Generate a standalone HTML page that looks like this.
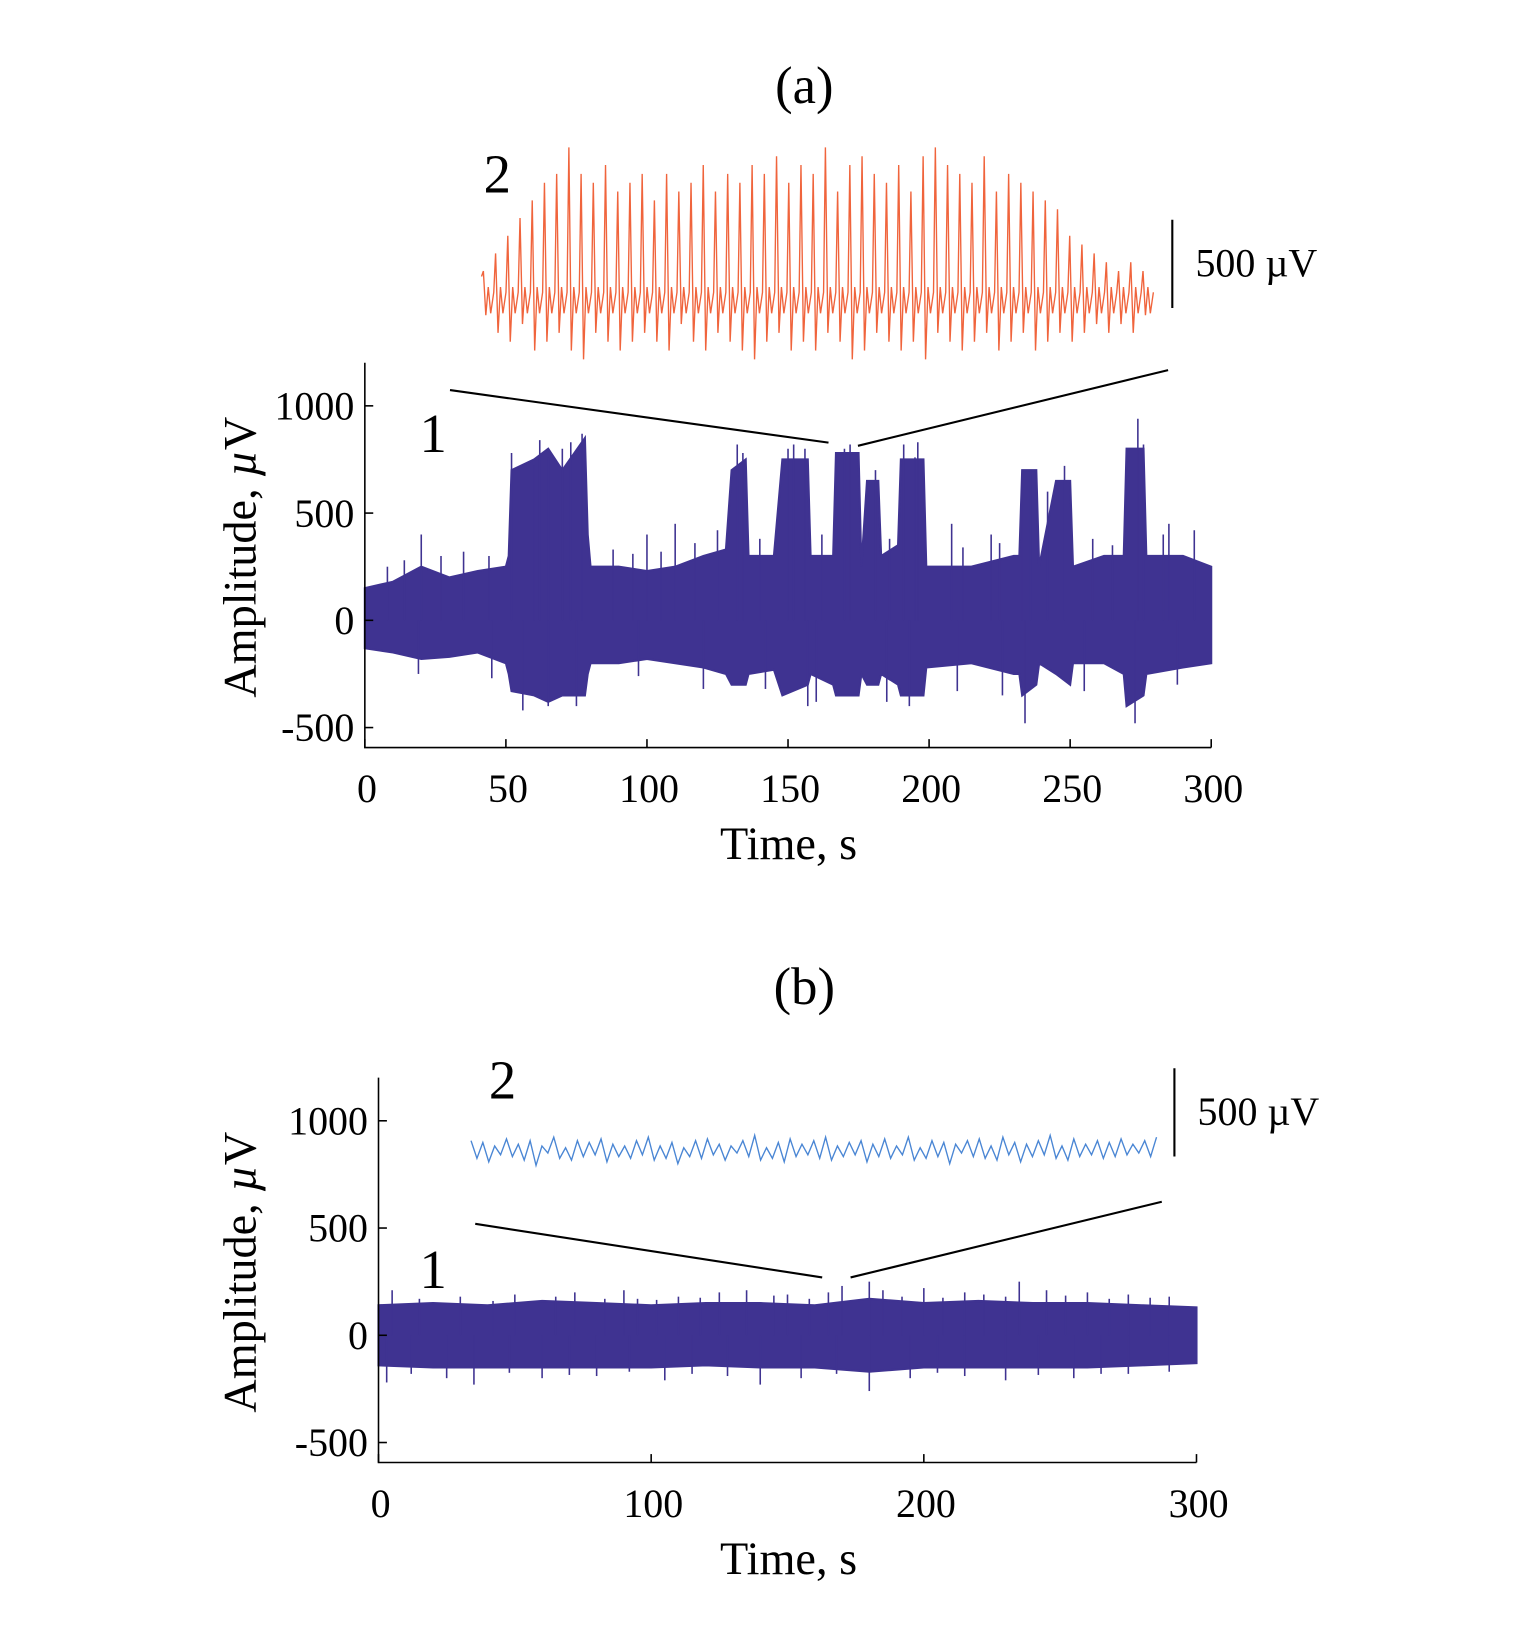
<!DOCTYPE html>
<html><head><meta charset="utf-8">
<style>
body{margin:0;background:#fff;}
svg text{font-family:"Liberation Serif",serif;fill:#000;}
</style></head>
<body>
<svg id="fig" width="1535" height="1646" viewBox="0 0 1535 1646" xmlns="http://www.w3.org/2000/svg">
<g transform="scale(1.0514)">
<g id="pa"></g>
<g id="pb"></g>
</g>
</svg>
<script>
// ---- Panel (a) data ----
const aTimes=[0,10,20,30,40,50,51,52,60,65,70,78,79,80,90,100,110,120,128,130,135,136,145,148,157,158,166,167,175,176,178,182,183,189,190,198,199,215,230,232,233,238,239,245,250,251,262,269,270,276,277,290,300];
const aHigh=[150,180,250,200,230,250,300,700,750,800,700,850,400,250,250,230,250,300,330,700,750,300,300,750,750,300,300,780,780,250,650,650,300,350,750,750,250,250,300,300,700,700,250,650,650,250,300,300,800,800,300,300,250];
const aLow=[-130,-150,-180,-170,-150,-200,-250,-330,-350,-380,-350,-350,-250,-200,-200,-180,-200,-220,-250,-300,-300,-250,-230,-350,-300,-250,-300,-350,-350,-250,-300,-300,-250,-300,-350,-350,-220,-200,-250,-250,-350,-300,-200,-250,-300,-200,-200,-250,-400,-350,-250,-220,-200];
const aSpikeT=[20,52,60,62,65,70,73,77,100,110,125,132,134,150,152,156,170,172,181,191,195,196,208,233,236,248,274,276,242,222,285,8,14,27,35,44,88,95,105,117,140,162,186,212,225,258,265,283,294];
const aSpikeV=[400,780,720,840,760,800,830,870,400,450,420,820,780,800,820,800,800,820,700,820,760,830,450,700,700,720,940,820,600,400,450,250,280,300,320,300,330,310,320,360,380,400,380,340,360,380,350,400,420];
const aSpikeLowT=[56,65,75,157,160,193,234,273,19,45,97,120,142,185,210,226,255,288];
const aSpikeLowV=[-420,-400,-400,-400,-380,-400,-480,-480,-250,-270,-260,-320,-320,-380,-330,-350,-330,-300];
const aYTicks=[-500,0,500,1000];
const aXTicks=[0,50,100,150,200,250,300];
// orange inset trace: spike peaks / troughs (µV relative to baseline)
const oPeaks=[150,250,350,450,550,650,700,850,700,650,750,600,650,700,550,700,600,650,750,600,700,650,750,700,800,650,750,700,850,600,750,800,700,650,750,600,800,850,750,700,650,800,600,700,650,600,550,500,350,300,250,200,150,200,150];
const oTroughs=[-100,-200,-250,-150,-300,-250,-200,-300,-350,-200,-250,-300,-250,-200,-250,-300,-150,-250,-300,-200,-250,-300,-350,-250,-200,-300,-250,-300,-200,-250,-350,-300,-200,-250,-300,-250,-350,-200,-250,-300,-250,-200,-300,-250,-200,-300,-250,-200,-250,-200,-150,-200,-150,-200,-100];
// ---- Panel (b) data ----
const bTimes=[0,20,40,60,80,100,120,140,160,180,200,220,240,260,280,300];
const bHigh=[140,150,140,160,150,140,150,150,140,170,150,160,150,150,140,130];
const bLow=[-140,-150,-150,-150,-150,-150,-140,-150,-150,-170,-150,-150,-150,-150,-140,-130];
const bSpikeT=[5,30,50,72,90,95,110,125,135,150,165,170,180,185,200,215,230,235,245,260,275,290,15,42,65,83,102,118,145,158,192,207,222,252,268,283];
const bSpikeV=[210,180,190,200,210,170,180,200,210,190,200,230,250,210,220,200,180,250,210,200,190,180,170,160,180,170,165,175,185,170,180,175,190,185,170,175];
const bSpikeLowT=[3,25,35,60,80,105,115,140,155,180,195,215,230,255,275,12,48,70,92,128,168,205,242,265,290];
const bSpikeLowV=[-220,-200,-230,-200,-190,-210,-180,-230,-200,-260,-200,-190,-210,-200,-180,-180,-175,-185,-170,-190,-180,-175,-185,-180,-170];
const bYTicks=[-500,0,500,1000];
const bXTicks=[0,100,200,300];
const blueInset=[60,-40,50,-60,30,-20,70,-30,40,-50,60,-80,30,-10,80,-40,20,-50,60,-30,50,-20,70,-60,40,-30,30,-40,60,-20,80,-50,30,-40,50,-70,20,-30,60,-40,70,-20,40,-50,30,-10,60,-30,90,-50,20,-40,50,-60,70,-30,40,-20,60,-40,80,-50,30,-30,50,-20,60,-60,40,-30,70,-40,30,-20,80,-50,20,-40,60,-30,50,-70,40,-10,60,-30,70,-40,30,-50,80,-20,50,-60,40,-30,60,-20,90,-40,30,-50,70,-30,40,-20,60,-40,50,-30,70,-20,40,-10,60,-30,80];

const NS='http://www.w3.org/2000/svg';
function mk(parent,tag,attrs){const e=document.createElementNS(NS,tag);for(const k in attrs)e.setAttribute(k,attrs[k]);parent.appendChild(e);return e;}
function txt(parent,x,y,s,size,anchor){const t=mk(parent,'text',{x:x,y:y,'font-size':size,'text-anchor':anchor||'middle'});t.textContent=s;return t;}

function panel(g,cfg){
  const X=t=>cfg.x0+(t-cfg.tmin)/(cfg.tmax-cfg.tmin)*(cfg.x1-cfg.x0);
  const Y=v=>cfg.yZero-v*cfg.pxPer500/500;
  let pts=[];
  for(let i=0;i<cfg.times.length;i++)pts.push(X(cfg.times[i])+','+Y(cfg.high[i]));
  for(let i=cfg.times.length-1;i>=0;i--)pts.push(X(cfg.times[i])+','+Y(cfg.low[i]));
  const band=mk(g,'polygon',{points:pts.join(' '),fill:'#3f3391',stroke:'#3f3391','stroke-width':2});
  
  
  for(let i=0;i<cfg.spT.length;i++){
    const l=mk(g,'line',{x1:X(cfg.spT[i]),x2:X(cfg.spT[i]),y1:Y(0),y2:Y(cfg.spV[i]),stroke:'#3f3391','stroke-width':1.5});
    
    
  }
  for(let i=0;i<cfg.slT.length;i++){
    const l=mk(g,'line',{x1:X(cfg.slT[i]),x2:X(cfg.slT[i]),y1:Y(0),y2:Y(cfg.slV[i]),stroke:'#3f3391','stroke-width':1.5});
    
    
  }
  const ax=mk(g,'path',{d:`M${cfg.x0},${cfg.yTop} V${cfg.yBot} H${cfg.x1}`,fill:'none',stroke:'#000','stroke-width':1.5});
  
  
  cfg.yTicks.forEach(v=>{
    const y=Y(v);
    const tk=mk(g,'line',{x1:cfg.x0,x2:cfg.x0+8,y1:y,y2:y,stroke:'#000','stroke-width':1.5});
    
    
    const t=txt(g,cfg.x0-10,y+13,String(v),38,'end');
    
    
  });
  cfg.xTicks.forEach(v=>{
    const x=X(v);
    const tk=mk(g,'line',{x1:x,x2:x,y1:cfg.yBot,y2:cfg.yBot-8,stroke:'#000','stroke-width':1.5});
    
    
    const t=txt(g,x+2,cfg.yBot+52,String(v),38);
    
    
  });
  const xt=txt(g,cfg.xTitleX,cfg.yBot+106,'Time, s',44);
  
  
  const yt=mk(g,'text',{x:0,y:0,'font-size':44,'text-anchor':'middle',transform:`translate(243,${cfg.yTitleY}) rotate(-90)`});
  yt.innerHTML='Amplitude, <tspan font-style="italic">µ</tspan>V';
  
  
  const ttl=txt(g,765,cfg.titleY,cfg.title,50);
  
  
  cfg.zoom.forEach(z=>{
    const l=mk(g,'line',{x1:z[0],y1:z[1],x2:z[2],y2:z[3],stroke:'#000','stroke-width':2});
    
    
  });
  const l1=txt(g,cfg.lab1[0],cfg.lab1[1],'1',52);
  
  
  const l2=txt(g,cfg.lab2[0],cfg.lab2[1],'2',52);
  
  
  const sb=mk(g,'line',{x1:cfg.sb[0],x2:cfg.sb[0],y1:cfg.sb[1],y2:cfg.sb[2],stroke:'#000','stroke-width':2});
  
  
  const sl=txt(g,cfg.sb[0]+22,(cfg.sb[1]+cfg.sb[2])/2+12,'500 µV',38,'start');
  
  
}

const ga=document.getElementById('pa');
panel(ga,{x0:347,x1:1152,tmin:0,tmax:300,yZero:590,pxPer500:102,yTop:345,yBot:711,
  times:aTimes,high:aHigh,low:aLow,spT:aSpikeT,spV:aSpikeV,slT:aSpikeLowT,slV:aSpikeLowV,
  yTicks:aYTicks,xTicks:aXTicks,xTitleX:750,yTitleY:530,title:'(a)',titleY:98,
  zoom:[[428,371,788,421],[816,424,1111,352]],lab1:[412,430],lab2:[473,183],sb:[1115,209,293]});
(function(){
  const x0=458,x1=1097,base=283,k=84/500;
  const n=oPeaks.length,step=(x1-x0)/n;
  let d=`M${x0},${base-20}`;
  for(let i=0;i<n;i++){
    const x=x0+i*step;
    d+=` L${x+step*0.15},${base-oPeaks[i]*k} L${x+step*0.35},${base-oTroughs[i]*k} L${x+step*0.55},${base-10} L${x+step*0.75},${base+15} L${x+step},${base-5}`;
  }
  const p=mk(ga,'path',{d:d,fill:'none',stroke:'#f0643c','stroke-width':1.3});
  
  
})();

const gb=document.getElementById('pb');
panel(gb,{x0:360,x1:1138,tmin:0,tmax:300,yZero:1270,pxPer500:102,yTop:1025,yBot:1391,
  times:bTimes,high:bHigh,low:bLow,spT:bSpikeT,spV:bSpikeV,slT:bSpikeLowT,slV:bSpikeLowV,
  yTicks:bYTicks,xTicks:bXTicks,xTitleX:750,yTitleY:1210,title:'(b)',titleY:955,
  zoom:[[452,1164,782,1215],[809,1215,1105,1143]],lab1:[412,1225],lab2:[478,1045],sb:[1117,1016,1100]});
(function(){
  const x0=448,x1=1100,base=1095,k=84/500;
  const n=blueInset.length,step=(x1-x0)/(n-1);
  let d='';
  blueInset.forEach((v,i)=>{d+=(i?' L':'M')+(x0+i*step)+','+(base-v*k);});
  const p=mk(gb,'path',{d:d,fill:'none',stroke:'#4a86d4','stroke-width':1.3});
  
  
})();
</script>
</body></html>
